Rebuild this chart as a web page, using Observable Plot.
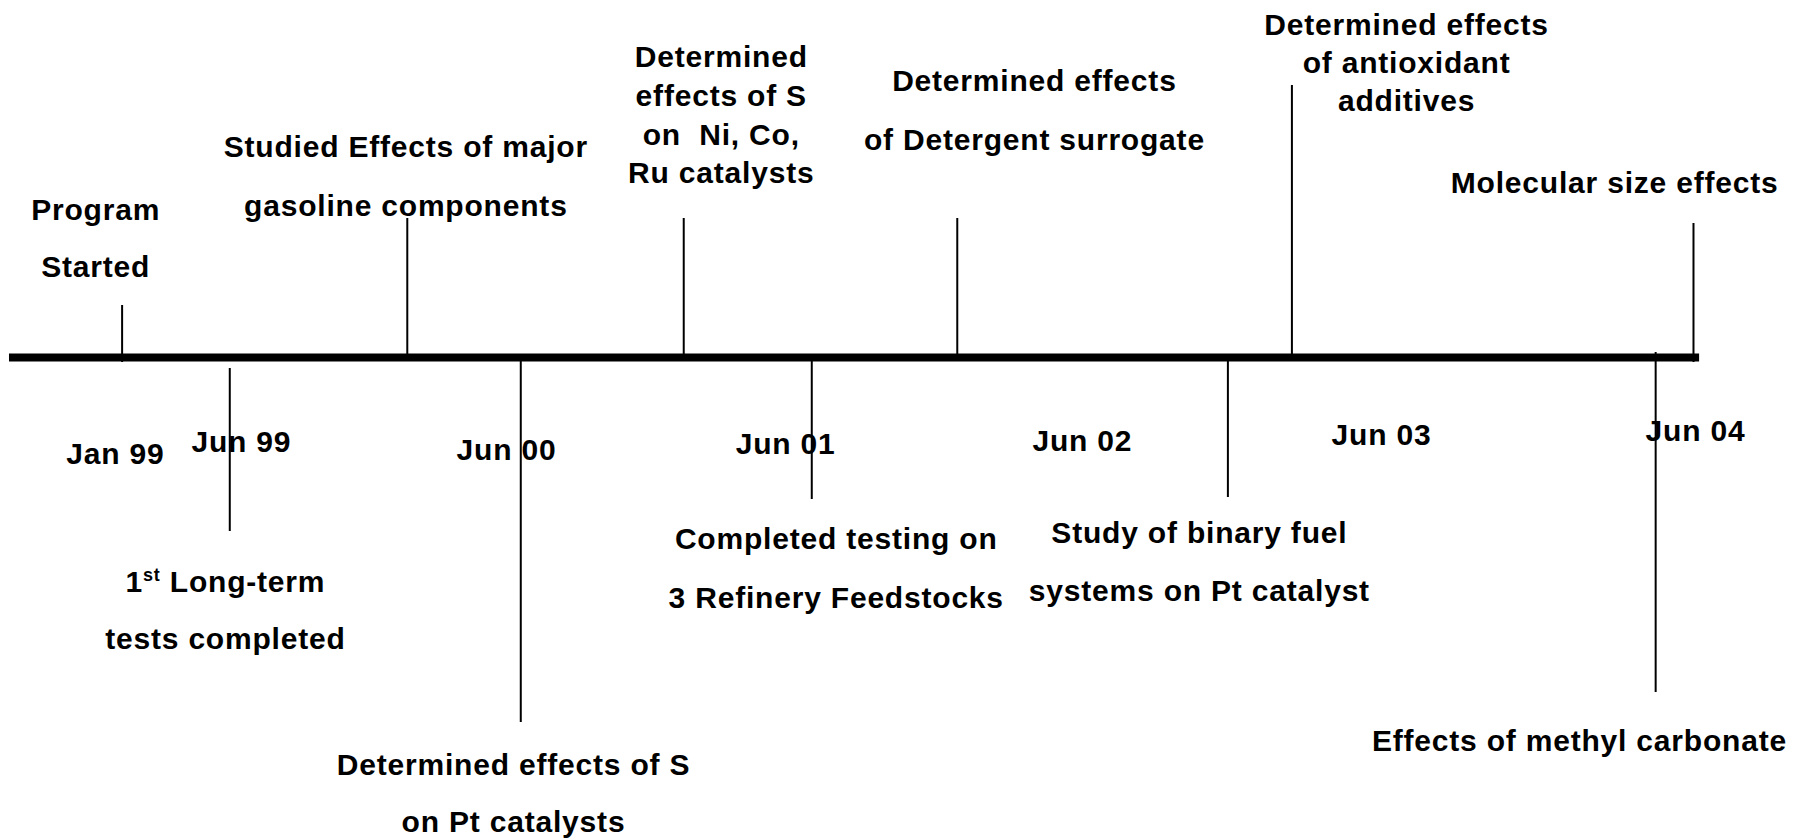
<!DOCTYPE html>
<html><head><meta charset="utf-8">
<script src="https://cdn.jsdelivr.net/npm/d3@7"></script>
<script src="https://cdn.jsdelivr.net/npm/@observablehq/plot@0.6"></script>
<style>html,body{margin:0;padding:0;background:#fff;} #chart svg{display:block;}</style>
</head><body><div id="chart"></div>
<script>
// ---- Tick labels along the timeline (position in decimal years, as read) ----
const tickLabels = ["Jan 99", "Jun 99", "Jun 00", "Jun 01", "Jun 02", "Jun 03", "Jun 04"];
const tickPos    = [1998.987, 1999.420, 2000.331, 2001.290, 2002.310, 2003.338, 2004.417];

// ---- Milestones (decimal years, as read) ----
const eventDate = [1999.01, 1999.99, 2000.94, 2001.88, 2003.03, 2004.41,
                   1999.38, 2000.38, 2001.38, 2002.81, 2004.28];
const eventLabel = [
  ["Program", "Started"],
  ["Studied Effects of major", "gasoline components"],
  ["Determined", "effects of S", "on  Ni, Co,", "Ru catalysts"],
  ["Determined effects", "of Detergent surrogate"],
  ["Determined effects", "of antioxidant", "additives"],
  ["Molecular size effects"],
  ["1st Long-term", "tests completed"],
  ["Determined effects of S", "on Pt catalysts"],
  ["Completed testing on", "3 Refinery Feedstocks"],
  ["Study of binary fuel", "systems on Pt catalyst"],
  ["Effects of methyl carbonate"]
];
const eventSide = ["above","above","above","above","above","above","below","below","below","below","below"];

// ---- Timeline extent ----
const timelineStart = 1998.623, timelineEnd = 2004.431;

// ---- Layout (height above the timeline, in y-scale units) ----
const tickLift   = [-97, -85, -93, -87, -84, -78, -74];
const stemFrom   = [-5, 0, 0, 0, 0, -5, -11, -3, -3, -3, 5];
const stemTo     = [52, 139, 139, 139, 272, 134, -174, -365, -142, -140, -335];
const labelCenter= [1998.919, 1999.985, 2001.069, 2002.145, 2003.424, 2004.139,
                    1999.365, 2000.355, 2001.464, 2002.712, 2004.018];
const labelTop   = [147, 210, 300, 276, 332, 174, -225, -408, -182, -176, -384];
const lineGap    = [57, 59, 38.7, 59, 38, 0, 57, 57, 59, 58, 0];

const stems = eventDate.map((d, i) => ({x: d, y1: stemFrom[i], y2: stemTo[i], side: eventSide[i]}));
const lines = eventLabel.flatMap((ls, k) => ls.map((t, i) => ({x: labelCenter[k], y: labelTop[k] - i * lineGap[k], text: t})));
const ticks = tickLabels.map((t, i) => ({x: tickPos[i], y: tickLift[i], text: t}));

const font = {fontSize: 30, fontWeight: "bold", fontFamily: "'Liberation Sans', Arial, sans-serif",
              fill: "black", textAnchor: "middle", lineAnchor: "middle"};

const chart = Plot.plot({
  width: 1796, height: 840, margin: 0,
  style: {background: "white", letterSpacing: "0.8px"},
  x: {domain: [1998.5921, 2004.764], range: [0, 1796], axis: null},
  y: {domain: [357, -483], range: [0, 840], axis: null},
  marks: [
    Plot.ruleX(stems, {x: "x", y1: "y1", y2: "y2", stroke: "black", strokeWidth: 2}),
    Plot.ruleY([{y: 0, x1: timelineStart, x2: timelineEnd}], {y: "y", x1: "x1", x2: "x2", stroke: "black", strokeWidth: 8}),
    Plot.text(lines, {x: "x", y: "y", text: "text", ...font}),
    Plot.text(ticks, {x: "x", y: "y", text: "text", ...font})
  ]
});
document.getElementById("chart").appendChild(chart);

// superscript "st" in "1st Long-term"
d3.select(chart).selectAll("text").each(function() {
  if (this.textContent === "1st Long-term") {
    const el = d3.select(this);
    el.text("");
    el.append("tspan").text("1");
    el.append("tspan").attr("font-size", 18).attr("dy", -11).text("st");
    el.append("tspan").attr("dy", 11).text(" Long-term");
  }
});
</script>
</body></html>
